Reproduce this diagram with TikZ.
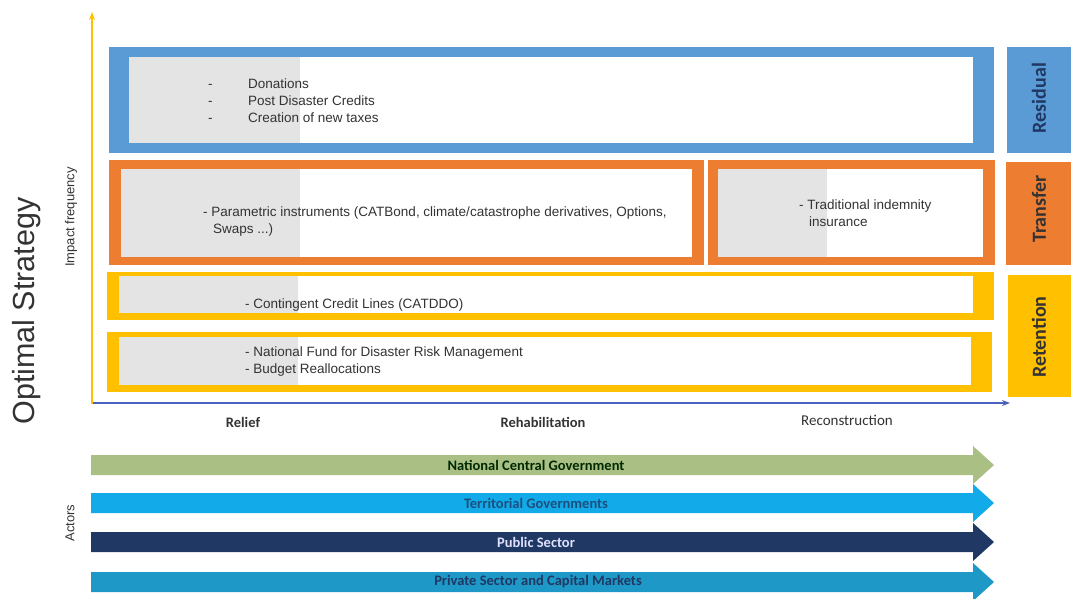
\documentclass[tikz,border=0pt]{standalone}
\usepackage{fontspec}
\setmainfont{Liberation Sans}
\newfontfamily\carl{Carlito}
\usetikzlibrary{arrows.meta}
\definecolor{cblue}{HTML}{5B9BD5}
\definecolor{corange}{HTML}{ED7D31}
\definecolor{cyellow}{HTML}{FFC000}
\definecolor{cgray}{HTML}{E4E4E4}
\definecolor{cgreen}{HTML}{A9BF84}
\definecolor{clblue}{HTML}{12AAE8}
\definecolor{cnavy}{HTML}{1F3864}
\definecolor{cteal}{HTML}{1E98C6}
\definecolor{caxis}{HTML}{4A62BF}
\definecolor{ctext}{HTML}{333333}
\newcommand\actorarrow[3]{%
  \fill[#2] (91,{#1-10}) -- (973,{#1-10}) -- (973,{#1-19}) -- (994,#1) -- (973,{#1+19}) -- (973,{#1+10}) -- (91,{#1+10}) -- cycle;}
\begin{document}
\begin{tikzpicture}[x=1pt,y=-1pt,
  boxtext/.style={font=\fontsize{13.5}{17}\selectfont, text=ctext, align=left, inner sep=0pt},
  sidelabel/.style={font=\carl\bfseries\fontsize{20}{22}\selectfont, rotate=90},
  phase/.style={font=\carl\bfseries\fontsize{14.5}{16}\selectfont, text=ctext},
  actorlabel/.style={font=\carl\bfseries\fontsize{14.5}{16}\selectfont},
  smalllabel/.style={font=\fontsize{13}{15}\selectfont, rotate=90, text=ctext}]
\useasboundingbox (0,0) rectangle (1071,599);
% axes
\coordinate (origin) at (92,403);
\coordinate (xend) at (1010,403);
\coordinate (yend) at (92,12);
\draw[caxis, line width=2.2, -{Stealth[length=8pt,width=6pt]}] (origin) -- (xend);
\draw[cyellow, line width=2.2, -{Stealth[length=8pt,width=6pt]}] ([yshift=-1pt]origin) -- (yend);
% Residual
\fill[cblue] (109,47) rectangle (994,153);
\fill[white] (129,57) rectangle (973,143);
\fill[cgray] (129,57) rectangle (300,143);
% Transfer
\fill[corange] (109,160) rectangle (704,265);
\fill[white] (121,169) rectangle (692,257);
\fill[cgray] (121,169) rectangle (300,257);
\fill[corange] (708,160) rectangle (995,265);
\fill[white] (718,169) rectangle (983,257);
\fill[cgray] (718,169) rectangle (827,257);
% Retention
\fill[cyellow] (107,272) rectangle (994,320);
\fill[white] (119,276) rectangle (973,313);
\fill[cgray] (119,276) rectangle (298,313);
\fill[cyellow] (107,332) rectangle (992,392);
\fill[white] (119,337) rectangle (971,385);
\fill[cgray] (119,337) rectangle (298,385);
% side labels
\fill[cblue] (1007,47) rectangle (1071,153);
\node[sidelabel, text=cnavy] (residual) at (1039,98) {Residual};
\fill[corange] (1006,162) rectangle (1071,265);
\node[sidelabel, text=ctext] (transfer) at (1039,209) {Transfer};
\fill[cyellow] (1008,275) rectangle (1071,397);
\node[sidelabel, text=ctext] (retention) at (1039,337) {Retention};
% box texts
\node[boxtext, anchor=west] (restext) at (208,101) {\makebox[40pt][l]{-}Donations\\\makebox[40pt][l]{-}Post Disaster Credits\\\makebox[40pt][l]{-}Creation of new taxes};
\node[boxtext, anchor=west] (paramtext) at (203,221.5) {- Parametric instruments (CATBond, climate/catastrophe derivatives, Options,\\\hspace*{10pt}Swaps ...)};
\node[boxtext, anchor=west] (indemtext) at (799,213) {- Traditional indemnity\\\hspace*{10pt}insurance};
\node[boxtext, anchor=west] (credittext) at (245,305) {- Contingent Credit Lines (CATDDO)};
\node[boxtext, anchor=west] (fundtext) at (245,361.5) {- National Fund for Disaster Risk Management\\- Budget Reallocations};
% axis labels
\node[phase] (relief) at (243,422) {Relief};
\node[phase] (rehab) at (543,422) {Rehabilitation};
\node[font=\carl\fontsize{15}{17}\selectfont, text=ctext] (recon) at (847,420) {Reconstruction};
\node[font=\fontsize{30.5}{34}\selectfont, rotate=90, text=ctext] (optimal) at (27,311) {Optimal Strategy};
\node[smalllabel] (impact) at (71,217) {Impact frequency};
\node[smalllabel] (actors) at (70,523) {Actors};
% actor arrows
\actorarrow{465}{cgreen}{}
\actorarrow{503}{clblue}{}
\actorarrow{542}{cnavy}{}
\actorarrow{582}{cteal}{}
\node[actorlabel, text=black!60!green!40!black] (natgov) at (536,465) {National Central Government};
\node[actorlabel, text=cnavy!80!clblue] (tergov) at (536,503) {Territorial Governments};
\node[actorlabel, text=white!88!blue] (public) at (536,542) {Public Sector};
\node[actorlabel, text=cnavy] (private) at (538,582) {Private Sector and Capital Markets};
\end{tikzpicture}
\end{document}
